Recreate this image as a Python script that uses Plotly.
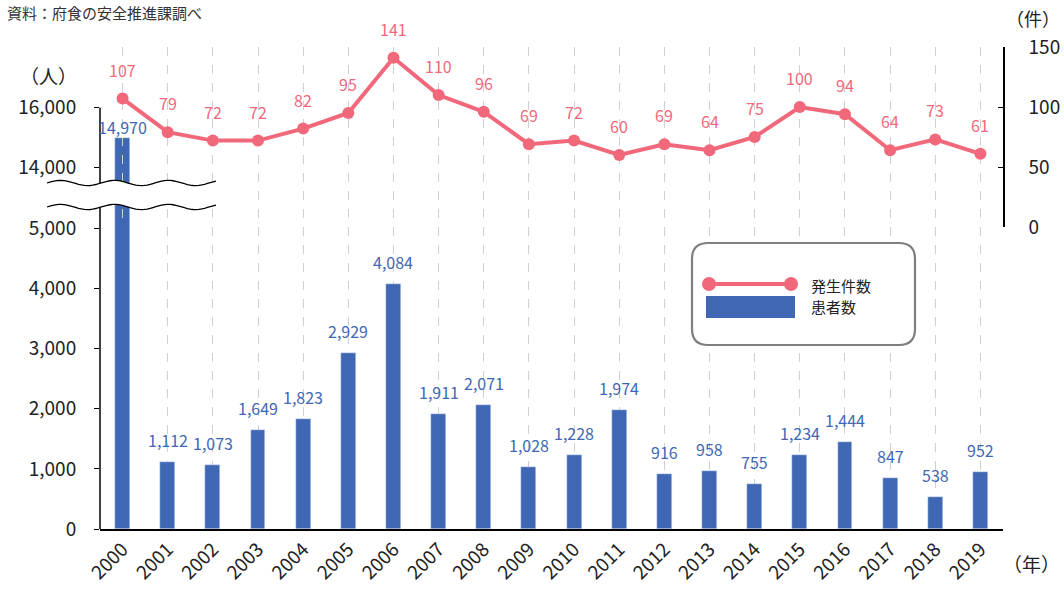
import numpy as np
import plotly.graph_objects as go

years = list(range(2000, 2020))
patients = [14970, 1112, 1073, 1649, 1823, 2929, 4084, 1911, 2071, 1028,
            1228, 1974, 916, 958, 755, 1234, 1444, 847, 538, 952]
incidents = [107, 79, 72, 72, 82, 95, 141, 110, 96, 69,
             72, 60, 69, 64, 75, 100, 94, 64, 73, 61]
left_ticks = [0, 1000, 2000, 3000, 4000, 5000, 14000, 16000]
right_ticks = [0, 50, 100, 150]

BAR = "#3F67B3"
PINK = "#F2687B"
FONT = "Noto Sans CJK JP"

# broken axis transform
def t(v):
    return v if v <= 5000 else 6020 + (v - 14000) * 0.495

W, H = 1064, 590
L, R, T, B = 100, 1003, 47, 529
def px(x):
    return (x - L) / (R - L)
def py(y):
    return (B - y) / (B - T)

fig = go.Figure()
fig.add_trace(go.Bar(x=years, y=[t(v) for v in patients], marker_color=BAR,
                     width=0.33, yaxis="y", hoverinfo="skip"))
fig.add_trace(go.Scatter(x=years, y=incidents, yaxis="y2", mode="lines+markers",
                         line=dict(color=PINK, width=4),
                         marker=dict(size=12, color=PINK), hoverinfo="skip"))

ann = []
for i, (yr, v) in enumerate(zip(years, patients)):
    ann.append(dict(x=yr, y=t(v), xref="x", yref="y", text=f"{v:,}", showarrow=False,
                    yanchor="middle", yshift=11 if i == 0 else 22,
                    font=dict(family=FONT, size=16, color=BAR)))
for yr, v in zip(years, incidents):
    ann.append(dict(x=yr, y=v, xref="x", yref="y2", text=str(v), showarrow=False,
                    yanchor="middle", yshift=29,
                    font=dict(family=FONT, size=16, color=PINK)))

def txt(x, y, s, size, anchor="center", color="#222"):
    ann.append(dict(x=px(x), y=py(y), xref="paper", yref="paper", text=s, showarrow=False,
                    xanchor=anchor, yanchor="middle",
                    font=dict(family=FONT, size=size, color=color)))

txt(5, 12, "資料：府食の安全推進課調べ", 15, "left", "#333")
txt(48, 75, "（人）", 19)
txt(1062, 18, "（件）", 18, "right")
txt(1031, 563, "（年）", 19)
txt(809, 285, "発生件数", 15, "left")
txt(809, 306, "患者数", 15, "left")

shapes = []
# left axis line
shapes.append(dict(type="line", xref="paper", yref="y", x0=0, x1=0, y0=0, y1=t(16000),
                   line=dict(color="black", width=1.5), layer="above"))
# break marks
xs = np.linspace(47, 216, 60)
wave = 2.6 * np.sin((xs - 47) / 54.0 * 2 * np.pi + np.pi)
up = 183 + wave
lo = 207 + wave
pts = [(x, y) for x, y in zip(xs, up)] + [(x, y) for x, y in zip(xs[::-1], lo[::-1])]
path = "M " + " L ".join(f"{px(x):.5f},{py(y):.5f}" for x, y in pts) + " Z"
shapes.append(dict(type="path", xref="paper", yref="paper", path=path,
                   fillcolor="white", line=dict(width=0), layer="above"))
for arr in (up, lo):
    p = "M " + " L ".join(f"{px(x):.5f},{py(y):.5f}" for x, y in zip(xs, arr))
    shapes.append(dict(type="path", xref="paper", yref="paper", path=p,
                       line=dict(color="black", width=1.3), layer="above"))
# legend box (rounded)
x0, x1, y0, y1, r = 692, 915, 243, 345, 16
rp = (f"M {px(x0+r)},{py(y0)} L {px(x1-r)},{py(y0)} Q {px(x1)},{py(y0)} {px(x1)},{py(y0+r)} "
      f"L {px(x1)},{py(y1-r)} Q {px(x1)},{py(y1)} {px(x1-r)},{py(y1)} "
      f"L {px(x0+r)},{py(y1)} Q {px(x0)},{py(y1)} {px(x0)},{py(y1-r)} "
      f"L {px(x0)},{py(y0+r)} Q {px(x0)},{py(y0)} {px(x0+r)},{py(y0)} Z")
shapes.append(dict(type="path", xref="paper", yref="paper", path=rp, fillcolor="white",
                   line=dict(color="#7F7F7F", width=2.2), layer="above"))
shapes.append(dict(type="line", xref="paper", yref="paper", x0=px(709), x1=px(791),
                   y0=py(284), y1=py(284), line=dict(color=PINK, width=4), layer="above"))
for cx in (709, 791):
    shapes.append(dict(type="circle", xref="paper", yref="paper",
                       x0=px(cx - 7), x1=px(cx + 7), y0=py(284 - 7), y1=py(284 + 7),
                       fillcolor=PINK, line=dict(width=0), layer="above"))
shapes.append(dict(type="rect", xref="paper", yref="paper", x0=px(706), x1=px(795),
                   y0=py(296), y1=py(318), fillcolor=BAR, line=dict(width=0), layer="above"))

fig.update_layout(
    width=W, height=H, margin=dict(l=L, r=W - R, t=T, b=H - B),
    paper_bgcolor="white", plot_bgcolor="rgba(0,0,0,0)", showlegend=False,
    font=dict(family=FONT, color="#222"),
    bargap=0, hovermode=False,
    xaxis=dict(range=[1999.5, 2019.5], tickvals=years, ticktext=[str(y) for y in years],
               tickangle=-45, showline=True, linecolor="black", linewidth=1.5,
               showgrid=True, gridcolor="#D0D0D0", griddash="dash", gridwidth=1,
               ticks="", tickfont=dict(size=19, color="#222"), zeroline=False,
               automargin=False),
    yaxis=dict(range=[0, (B - T) / 0.0601], tickvals=[t(v) for v in left_ticks],
               ticktext=[f"{v:,}" for v in left_ticks], ticks="outside", ticklen=5,
               tickcolor="black", showgrid=False, zeroline=False, showline=False,
               tickfont=dict(size=19, color="#222"), ticklabelstandoff=14,
               automargin=False),
    yaxis2=dict(domain=[py(227), py(T)], range=[0, 150], tickvals=right_ticks,
                side="right", anchor="x", showline=True, linecolor="black", linewidth=1.5,
                ticks="inside", ticklen=5, tickcolor="black", showgrid=False,
                zeroline=False, tickfont=dict(size=19, color="#222"), ticklabelstandoff=20,
                automargin=False),
    annotations=ann, shapes=shapes,
)
fig.write_html("out.html", config={"displayModeBar": False},
               post_script="document.body.style.margin='0';document.body.style.overflow='hidden';")
